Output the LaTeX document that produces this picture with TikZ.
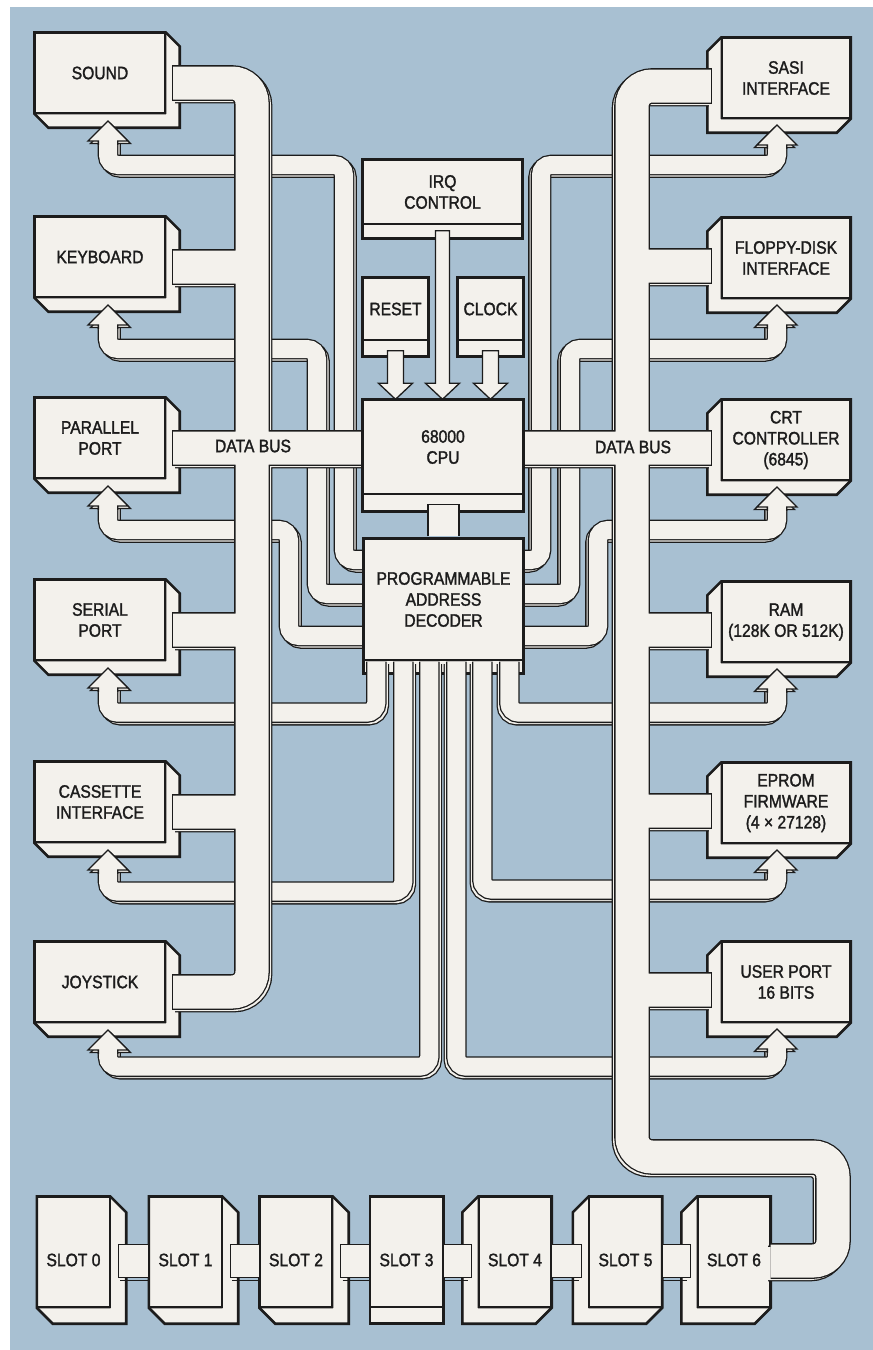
\documentclass[tikz,border=0pt]{standalone}
\usepackage{fontspec}
\setmainfont{Liberation Sans}[FakeStretch=0.87,FakeBold=1.6]
\definecolor{PlateBlue}{HTML}{A8C0D2}
\definecolor{PlatePaper}{HTML}{F3F1EC}
\definecolor{PlateInk}{HTML}{1C1C1C}

% depth faces hung on a front-face node: down-right, down-left, straight down
\newcommand{\boxdr}[2]{\draw[rim] (#1.north east) -- ++(#2,#2) |- ([shift={(#2,#2)}]#1.south west) -- (#1.south west) -- (#1.south east) -- cycle;
  \draw[hull] (#1.south west) |- (#1.north east) -- ++(#2,#2) |- ([shift={(#2,#2)}]#1.south west) -- cycle;}
\newcommand{\boxdl}[2]{\draw[rim] (#1.north west) -- ++(-#2,#2) |- ([shift={(-#2,#2)}]#1.south east) -- (#1.south east) -- (#1.south west) -- cycle;
  \draw[hull] (#1.south east) |- (#1.north west) -- ++(-#2,#2) |- ([shift={(-#2,#2)}]#1.south east) -- cycle;}
\newcommand{\boxdd}[2]{\draw[rim] (#1.south west) rectangle ([shift={(0,#2)}]#1.south east);
  \draw[hull] (#1.north west) rectangle ([shift={(0,#2)}]#1.south east);}
% white pipe with a black rim and an offset shadow rim
\newcommand{\pipe}[4]{%
  \foreach \sx/\sy in {#2/2.5,0/0}{%
    \draw[PlateInk,line width=#1+2.6pt,rounded corners=#3,transform canvas={xshift=\sx pt,yshift=-\sy pt}] #4;
    \draw[PlatePaper,line width=#1,rounded corners=#3,transform canvas={xshift=\sx pt,yshift=-\sy pt}] #4;}}
\newcommand{\uphead}[2]{%
  \draw[seam,fill=PlatePaper,transform canvas={xshift=#2pt,yshift=-2.5pt}] ([xshift=-20pt]#1) -- ([yshift=20pt]#1) -- ([xshift=20pt]#1) -- cycle;
  \draw[seam,fill=PlatePaper] ([shift={(-9.65,4)}]#1) -- ++(0,-4) -- ++(-10.35,0) -- ++(20,-20) -- ++(20,20) -- ++(-10.35,0) -- ++(0,4);}
\newcommand{\sigarrow}[3]{%
  \draw[seam,fill=PlatePaper] ([xshift=-#3pt]#1) -- ([xshift=#3pt]#1) -- ([shift={(#3,-16)}]#2) -- ([shift={(17,-16)}]#2) -- (#2) -- ([shift={(-17,-16)}]#2) -- ([shift={(-#3,-16)}]#2) -- cycle;}

\begin{document}
\begin{tikzpicture}[x=1pt,y=-1pt,
  face/.style={draw=PlateInk,fill=PlatePaper,line width=1.4pt,align=center,
    inner sep=0pt,text=PlateInk,font=\fontsize{18}{21}\selectfont},
  rim/.style={draw=PlateInk,fill=PlatePaper,line width=1.4pt,line join=round},
  hull/.style={draw=PlateInk,line width=2.6pt,line join=miter},
  seam/.style={draw=PlateInk,line width=1.3pt},
  lbl/.style={text=PlateInk,font=\fontsize{18}{21}\selectfont}
]
\useasboundingbox (0,0) rectangle (873,1350);
\fill[white] (0,0) rectangle (873,1350);
\fill[PlateBlue] (10,7) rectangle (873,1350);

% peripherals: left column leans right, right column leans left
\foreach \nm/\ty/\txt in {sound/33/SOUND, keyb/217/KEYBOARD, ppt/398/{PARALLEL\\PORT},
    spt/580/{SERIAL\\PORT}, cass/762/{CASSETTE\\INTERFACE}, joy/942/JOYSTICK}{
  \node[face,minimum width=130pt,minimum height=80pt] (\nm) at (100,\ty+40) {\txt};
  \boxdr{\nm}{14}
  \coordinate (\nm-d) at ([shift={(7,10)}]\nm.east);
  \coordinate (\nm-c) at ([shift={(8,68)}]\nm.center);
}
\foreach \nm/\ty/\txt in {sasi/38/{SASI\\INTERFACE}, floppy/218/{FLOPPY-DISK\\INTERFACE},
    crt/400/{CRT\\CONTROLLER\\(6845)}, ram/582/{RAM\\(128K OR 512K)},
    eprom/763/{EPROM\\FIRMWARE\\(4 × 27128)}, user/942/{USER PORT\\16 BITS}}{
  \node[face,minimum width=128pt,minimum height=80pt] (\nm) at (786,\ty+40) {\txt};
  \boxdl{\nm}{14}
  \coordinate (\nm-d) at ([shift={(-10,8)}]\nm.west);
  \coordinate (\nm-c) at ([shift={(-9,67)}]\nm.center);
}
\foreach \i/\cx in {0/73.5,1/185.5,2/296,3/406.5,4/515,5/625.5,6/734}{
  \node[face,minimum width=72pt,minimum height=110pt,
    label={[lbl,name=slot\i-t,yshift=-8pt]center:SLOT \i}] (slot\i) at (\cx,1252) {};
  \ifnum\i<3 \boxdr{slot\i}{16}\else\ifnum\i=3 \boxdd{slot\i}{16}\else\boxdl{slot\i}{16}\fi\fi
}
\coordinate (slot6-d) at ([yshift=-9pt]slot6.east);

\coordinate (lbus) at (252,0);
\coordinate (rbus) at (632,0);
\coordinate (rbend) at (833,1157);
\coordinate (cpu-l) at (371,448);
\coordinate (cpu-r) at (515,448);
\coordinate (pad-l1) at (372,560);
\coordinate (pad-l2) at (372,594);
\coordinate (pad-l3) at (372,636);
\coordinate (pad-r1) at (515,560);
\coordinate (pad-r2) at (515,594);
\coordinate (pad-r3) at (515,636);

% select lines entering the decoder sides
\pipe{18pt}{2.5}{10pt}{(sound-c) -- ++(0,24) -| ([xshift=-28pt]pad-l1) -- (pad-l1)
  (keyb-c) -- ++(0,24) -| ([xshift=-55pt]pad-l2) -- (pad-l2)
  (ppt-c) -- ++(0,24) -| ([xshift=-83pt]pad-l3) -- (pad-l3)}
\pipe{18pt}{-2.5}{10pt}{(sasi-c) -- ++(0,20) -| ([xshift=26pt]pad-r1) -- (pad-r1)
  (floppy-c) -- ++(0,24) -| ([xshift=55pt]pad-r2) -- (pad-r2)
  (crt-c) -- ++(0,23) -| ([xshift=83pt]pad-r3) -- (pad-r3)}

\node[face,minimum width=159pt,minimum height=121pt] (pad) at (443.5,599.5)
  {PROGRAMMABLE\\ADDRESS\\DECODER};
\boxdd{pad}{13}

% select lines leaving the decoder bottom
\pipe{18pt}{2.5}{10pt}{([shift={(13,1)}]pad.south west) -- ++(0,51) -| (spt-c)
  ([shift={(40,1)}]pad.south west) -- ++(0,230) -| (cass-c)
  ([shift={(66,1)}]pad.south west) -- ++(0,405) -| (joy-c)}
\pipe{18pt}{-2.5}{10pt}{([shift={(146,1)}]pad.south west) -- ++(0,51) -| (ram-c)
  ([shift={(119,1)}]pad.south west) -- ++(0,228) -| (eprom-c)
  ([shift={(93,1)}]pad.south west) -- ++(0,405) -| (user-c)}

\foreach \nm in {sound,keyb,ppt,spt,cass,joy} {\uphead{\nm-c}{2.5}}
\foreach \nm in {sasi,floppy,crt,ram,eprom,user} {\uphead{\nm-c}{-2.5}}

% data bus
\pipe{33pt}{2.5}{20pt}{(sound-d) -- (sound-d -| lbus) -- (joy-d -| lbus) -- (joy-d)
  (keyb-d) -- (keyb-d -| lbus) (ppt-d) -- (cpu-l) (spt-d) -- (spt-d -| lbus)
  (cass-d) -- (cass-d -| lbus)}
\pipe{33pt}{-2.5}{20pt}{(sasi-d) -- (sasi-d -| rbus) -- (rbus |- rbend) -- (rbend)
  -- (rbend |- slot6-d) -- (slot6-d)
  (floppy-d) -- (floppy-d -| rbus) (crt-d) -- (cpu-r) (ram-d) -- (ram-d -| rbus)
  (eprom-d) -- (eprom-d -| rbus) (user-d) -- (user-d -| rbus)}
\foreach \nm in {sound,keyb,ppt,spt,cass,joy,sasi,floppy,crt,ram,eprom,user}
  \draw[seam] ([yshift=17.8pt]\nm-d) -- ([yshift=-17.8pt]\nm-d);

\foreach \i/\j in {0/1,1/2,2/3}{
  \draw[seam] ([shift={(10,28.5)}]slot\i.east) -- ([yshift=-28.5pt]slot\j.west);
  \draw[seam,fill=PlatePaper] ([shift={(8,-7.5)}]slot\i.east) rectangle ([yshift=-25.5pt]slot\j.west);}
\foreach \i/\j in {3/4,4/5,5/6}{
  \draw[seam] ([yshift=-28.5pt]slot\i.east) -- ([shift={(-10,28.5)}]slot\j.west);
  \draw[seam,fill=PlatePaper] ([yshift=7.5pt]slot\i.east) rectangle ([shift={(-7,25.5)}]slot\j.west);}

% processor core
\node[face,minimum width=159pt,minimum height=64pt] (irq) at (442.5,192) {IRQ\\CONTROL};
\boxdd{irq}{14}
\node[face,minimum width=65pt,minimum height=62pt] (reset) at (395.5,309) {RESET};
\boxdd{reset}{16}
\node[face,minimum width=65pt,minimum height=62pt] (clock) at (490.5,309) {CLOCK};
\boxdd{clock}{16}
\node[face,minimum width=160pt,minimum height=94pt] (cpu) at (443,447) {68000\\CPU};
\boxdd{cpu}{17}
\draw[seam,fill=PlatePaper] ([shift={(-15.5,-2)}]pad.north) -- ([shift={(-15.5,-34)}]pad.north)
  -- ([shift={(15.5,-34)}]pad.north) -- ([shift={(15.5,-2)}]pad.north);

\coordinate (irq-top) at ([yshift=-6pt]irq.south);
\coordinate (irq-tip) at (irq.south |- cpu.north);
\coordinate (rst-top) at ([yshift=-10pt]reset.south);
\coordinate (rst-tip) at (reset.south |- cpu.north);
\coordinate (clk-top) at ([yshift=-10pt]clock.south);
\coordinate (clk-tip) at (clock.south |- cpu.north);
\sigarrow{irq-top}{irq-tip}{7}
\sigarrow{rst-top}{rst-tip}{8}
\sigarrow{clk-top}{clk-tip}{8}

\node[lbl] (busl) at (253,446) {DATA BUS};
\node[lbl] (busr) at (633,447) {DATA BUS};
\end{tikzpicture}
\end{document}
